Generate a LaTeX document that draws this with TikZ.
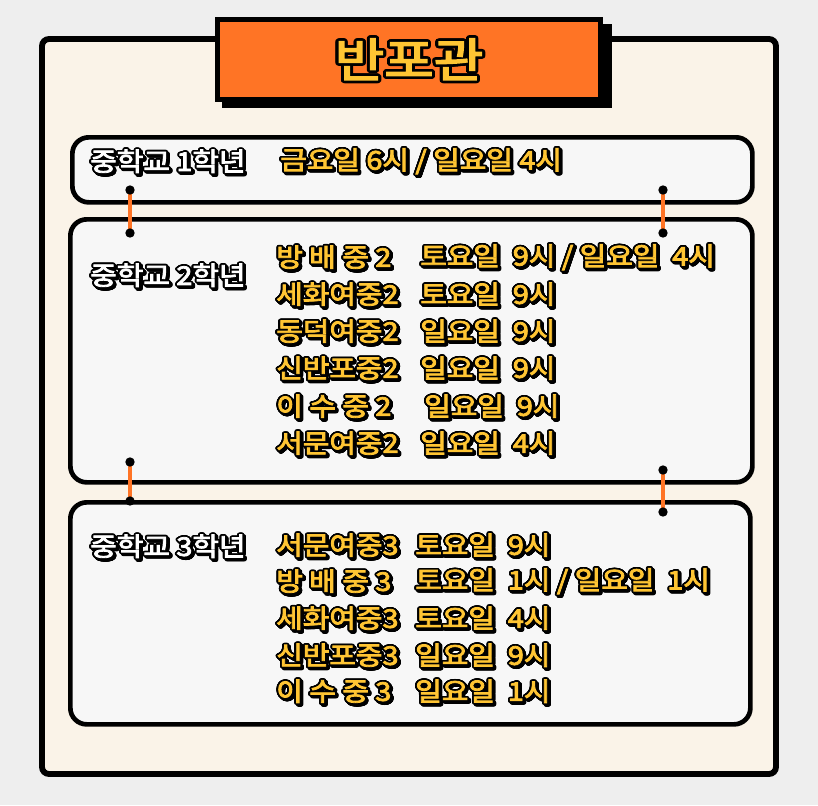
\documentclass[tikz,border=0pt]{standalone}
\usepackage{fontspec}
\usepackage[copies]{contour}
\newfontfamily\kr[AutoFakeBold=3]{Noto Sans CJK KR}
\definecolor{bg}{HTML}{EEEEEE}
\definecolor{cream}{HTML}{FAF3E8}
\definecolor{boxf}{HTML}{F7F7F7}
\definecolor{org}{HTML}{FF7425}
\definecolor{yel}{HTML}{FFC533}
\contourlength{1.4pt}
\contournumber{24}
\newcommand{\ytx}[1]{\textcolor{yel}{\contour{black}{#1}}}
\newcommand{\wtx}[1]{\textcolor{white}{\contour{black}{#1}}}
\tikzset{
  card/.style={draw=black,line width=4pt,rounded corners=14pt,fill=boxf},
  ln/.style={anchor=west,inner sep=0,xscale=1.12,font=\kr\bfseries\fontsize{22}{24}\selectfont},
  shd/.style={ln,text=black},
  link/.style={draw=org,line width=3pt},
  dot/.style={circle,fill=black,inner sep=0,minimum size=8pt}
}
\newcommand{\T}[4]{% name, x, y, text
  \node[shd] at (#2+1.8,#3+1.8) {\contour{black}{#4}};
  \node[ln] (#1) at (#2,#3) {\ytx{#4}};}
\newcommand{\W}[4]{%
  \node[shd] at (#2+1.8,#3+1.8) {\contour{black}{#4}};
  \node[ln] (#1) at (#2,#3) {\wtx{#4}};}
\begin{document}
\begin{tikzpicture}[x=0.03cm,y=-0.03cm]
\fill[bg] (0,0) rectangle (818,805);
\useasboundingbox (0,0) rectangle (818,805);
\draw[fill=cream,line width=5pt,rounded corners=6pt] (42,39) rectangle (776,774);
% title
\fill[black] (222,24) rectangle (612,108);
\node[draw=black,line width=4pt,fill=org,inner sep=0,anchor=north west,minimum width=11.5cm,minimum height=2.4cm] (title) at (215,17) {};
\node[inner sep=0,xscale=1.15,font=\kr\bfseries\fontsize{40}{42}\selectfont] at ([yshift=-1pt]title.center) {\contourlength{2.2pt}\ytx{반포관}};
% boxes
\node[card,anchor=north west,minimum width=20.4cm,minimum height=1.95cm] (b1) at (70,135) {};
\node[card,anchor=north west,minimum width=20.46cm,minimum height=7.89cm] (b2) at (68,217) {};
\node[card,anchor=north west,minimum width=20.4cm,minimum height=6.66cm] (b3) at (68,500) {};
% links
\coordinate (l1a) at (130,190); \coordinate (l1b) at (130,233);
\coordinate (l2a) at (663,190); \coordinate (l2b) at (663,233);
\coordinate (l3a) at (130,462); \coordinate (l3b) at (130,501);
\coordinate (l4a) at (663,470); \coordinate (l4b) at (663,512);
\foreach \a/\b in {l1a/l1b,l2a/l2b,l3a/l3b,l4a/l4b}{
  \draw[link] (\a) -- (\b);
  \node[dot] at (\a) {}; \node[dot] at (\b) {};}
% texts box1
\W{t1}{90}{162}{중학교 1학년}
\T{t1b}{280}{162}{금요일 6시 / 일요일 4시}
% box2
\W{t2}{90}{276}{중학교 2학년}
\T{a1}{276}{258}{방 배 중 2}  \T{a1b}{420}{258}{토요일 \ 9시 / 일요일 \ 4시}
\T{a2}{276}{295}{세화여중2}   \T{a2b}{420}{295}{토요일 \ 9시}
\T{a3}{276}{332}{동덕여중2}   \T{a3b}{420}{332}{일요일 \ 9시}
\T{a4}{276}{369}{신반포중2}   \T{a4b}{420}{369}{일요일 \ 9시}
\T{a5}{276}{407}{이 수 중 2}  \T{a5b}{424}{407}{일요일 \ 9시}
\T{a6}{276}{444}{서문여중2}   \T{a6b}{420}{444}{일요일 \ 4시}
% box3
\W{t3}{90}{547}{중학교 3학년}
\T{c1}{276}{546}{서문여중3}   \T{c1b}{415}{546}{토요일 \ 9시}
\T{c2}{276}{582}{방 배 중 3}  \T{c2b}{415}{582}{토요일 \ 1시 / 일요일 \ 1시}
\T{c3}{276}{619}{세화여중3}   \T{c3b}{415}{619}{토요일 \ 4시}
\T{c4}{276}{656}{신반포중3}   \T{c4b}{415}{656}{일요일 \ 9시}
\T{c5}{276}{692}{이 수 중 3}  \T{c5b}{415}{692}{일요일 \ 1시}
\end{tikzpicture}
\end{document}
